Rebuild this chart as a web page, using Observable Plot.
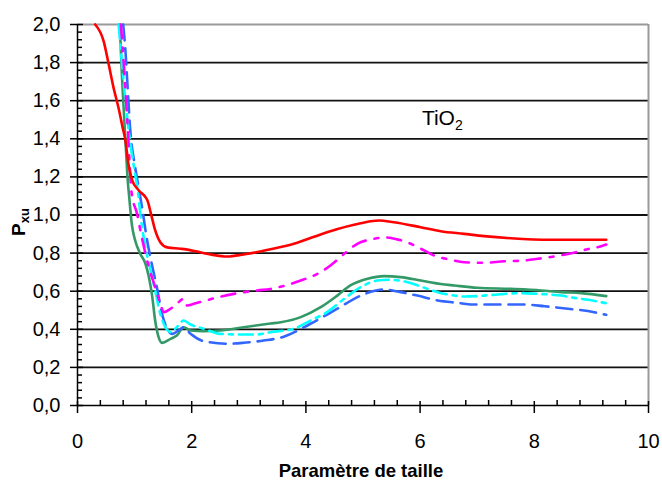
<!DOCTYPE html>
<html><head><meta charset="utf-8">
<script src="https://cdn.jsdelivr.net/npm/d3@7"></script>
<script src="https://cdn.jsdelivr.net/npm/@observablehq/plot@0.6"></script>
<style>body{margin:0;background:#fff;} svg{display:block}</style>
</head><body><div id="chart"></div>
<script>
// ---- data ----
const xRed = [0.31,0.46,0.54,0.63,0.72,0.79,0.84,0.89,0.96,1.07,1.22,1.30,1.36,1.45,1.57,1.80,1.95,2.09,2.33,2.62,2.91,3.20,3.38,3.79,4.37,4.96,5.28,5.54,6.01,6.36,6.77,7.12,7.59,8.29,9.26];
const yRed = [2.00,1.91,1.80,1.67,1.56,1.46,1.39,1.27,1.18,1.13,1.08,0.99,0.92,0.857,0.83,0.823,0.817,0.808,0.793,0.782,0.793,0.808,0.82,0.849,0.91,0.957,0.971,0.962,0.936,0.915,0.901,0.889,0.878,0.870,0.870];

const xMagenta = [0.76,0.82,0.87,0.95,1.04,1.13,1.25,1.36,1.45,1.51,1.63,1.74,1.86,1.92,2.04,2.21,2.47,2.74,3.15,3.38,3.91,4.20,4.43,4.67,4.90,5.14,5.40,5.60,5.81,6.07,6.25,6.54,6.77,7.12,7.47,7.82,8.06,8.44,8.73,8.91,9.17,9.26];
const yMagenta = [2.00,1.75,1.51,1.11,1.01,0.877,0.726,0.621,0.534,0.49,0.508,0.534,0.56,0.525,0.534,0.548,0.569,0.586,0.604,0.612,0.656,0.691,0.735,0.796,0.849,0.872,0.882,0.872,0.852,0.814,0.787,0.765,0.752,0.749,0.757,0.761,0.77,0.787,0.805,0.819,0.836,0.845];

const xCyan = [0.72,0.84,0.92,1.00,1.06,1.10,1.19,1.28,1.36,1.45,1.54,1.63,1.74,1.86,1.98,2.21,2.50,2.80,3.15,3.38,3.79,4.08,4.37,4.67,4.96,5.25,5.49,5.78,6.01,6.31,6.60,6.77,7.12,7.36,7.77,8.06,8.47,8.70,8.94,9.17,9.26];
const yCyan = [2.00,1.60,1.39,1.23,1.12,1.006,0.831,0.709,0.604,0.481,0.411,0.385,0.411,0.446,0.425,0.403,0.376,0.373,0.373,0.385,0.403,0.446,0.49,0.56,0.621,0.656,0.66,0.647,0.625,0.595,0.577,0.572,0.577,0.583,0.59,0.586,0.577,0.565,0.555,0.542,0.537];

const xBlue = [0.80,0.84,0.87,0.92,1.01,1.07,1.13,1.22,1.30,1.39,1.48,1.57,1.66,1.77,1.86,1.98,2.21,2.62,2.91,3.26,3.60,4.08,4.55,4.96,5.37,5.66,5.95,6.31,6.71,6.89,7.82,8.18,8.59,9.05,9.17,9.26];
const yBlue = [2.00,1.86,1.71,1.46,1.25,1.146,1.04,0.866,0.744,0.621,0.481,0.403,0.376,0.394,0.411,0.376,0.338,0.324,0.329,0.341,0.36,0.429,0.508,0.577,0.609,0.595,0.577,0.551,0.537,0.53,0.53,0.521,0.508,0.49,0.481,0.476];

const xGreen = [0.74,0.78,0.84,0.88,0.91,0.95,1.01,1.10,1.19,1.25,1.31,1.36,1.42,1.48,1.63,1.74,1.86,1.98,2.21,2.50,2.91,3.38,3.56,3.91,4.26,4.55,4.78,5.08,5.37,5.66,6.01,6.36,6.60,7.00,7.59,8.12,8.47,8.82,9.26];
const yGreen = [2.00,1.72,1.39,1.18,1.08,0.954,0.866,0.796,0.744,0.674,0.569,0.446,0.359,0.329,0.35,0.367,0.411,0.394,0.39,0.394,0.411,0.43,0.437,0.464,0.516,0.577,0.63,0.665,0.679,0.674,0.656,0.638,0.63,0.618,0.612,0.604,0.595,0.59,0.574];

const yTickLabels = [0,0.2,0.4,0.6,0.8,1.0,1.2,1.4,1.6,1.8,2.0];
const xTickLabels = [0,2,4,6,8,10];
const yMinor = d3.range(0, 2.0001, 0.04).filter(v => Math.abs(v/0.2 - Math.round(v/0.2)) > 1e-6);
const xMinor = d3.range(0, 10.0001, 0.4).filter(v => Math.abs(v/2 - Math.round(v/2)) > 1e-6);
const yGrid = yTickLabels.filter(v => v > 0 && v < 2);

const series = [
  {name: "green",   xs: xGreen,   ys: yGreen,   color: "#339966", dash: null},
  {name: "blue",    xs: xBlue,    ys: yBlue,    color: "#3366ff", dash: "16,8"},
  {name: "cyan",    xs: xCyan,    ys: yCyan,    color: "#00ffff", dash: "14,6,4,6"},
  {name: "magenta", xs: xMagenta, ys: yMagenta, color: "#ff00ff", dash: "14,9,4,9"},
  {name: "red",     xs: xRed,     ys: yRed,     color: "#ff0000", dash: null}
];
const rows = series.flatMap(s => s.xs.map((x, i) => ({series: s.name, x, y: s.ys[i]})));

const fmt = d => d.toFixed(1).replace(".", ",");

const plot = Plot.plot({
  width: 662, height: 484,
  marginLeft: 77, marginRight: 14, marginTop: 24, marginBottom: 79,
  x: {domain: [0, 10]},
  y: {domain: [0, 2]},
  style: {fontFamily: "'Liberation Sans', Arial, sans-serif", background: "#fff", color: "#000"},
  marks: [
    Plot.ruleY(yGrid, {stroke: "#111", strokeWidth: 1.8}),
    Plot.ruleY([2], {stroke: "#9a9a9a", strokeWidth: 2}),
    Plot.ruleX([10], {stroke: "#9a9a9a", strokeWidth: 2}),
    ...series.map(s => Plot.line(rows.filter(r => r.series === s.name), {
      x: "x", y: "y", stroke: s.color, strokeWidth: 2.6,
      strokeDasharray: s.dash, curve: "monotone-x"
    })),
    Plot.ruleX([0], {stroke: "#000", strokeWidth: 1.5}),
    Plot.ruleY([0], {stroke: "#000", strokeWidth: 1.5}),
    Plot.axisY(yTickLabels, {tickSize: 13, dx: 6, tickFormat: () => "", label: null, strokeWidth: 1.5}),
    Plot.axisY(yMinor, {tickSize: 5, dx: 5, tickFormat: () => "", label: null, strokeWidth: 1.5}),
    Plot.axisY(yTickLabels, {tickSize: 0, tickPadding: 17, tickFormat: fmt, fontSize: 20, label: null}),
    Plot.axisX(xTickLabels, {tickSize: 12, dy: -4, tickFormat: () => "", label: null, strokeWidth: 1.5}),
    Plot.axisX(xMinor, {tickSize: 5, dy: -5, tickFormat: () => "", label: null, strokeWidth: 1.5}),
    Plot.axisX(xTickLabels, {tickSize: 0, tickPadding: 28, fontSize: 20, label: null})
  ]
});
document.getElementById("chart").appendChild(plot);

const svg = d3.select(plot);
const fam = "'Liberation Sans', Arial, sans-serif";
// y axis title
const yl = svg.append("text")
  .attr("transform", "translate(25,222) rotate(-90)")
  .attr("text-anchor", "middle")
  .attr("font-family", fam).attr("font-weight", "bold").attr("font-size", 19).attr("fill", "#000");
yl.append("tspan").text("P");
yl.append("tspan").attr("font-size", 13).attr("dy", 4).text("xu");
// x axis title
svg.append("text")
  .attr("x", 361).attr("y", 477)
  .attr("text-anchor", "middle")
  .attr("font-family", fam).attr("font-weight", "bold").attr("font-size", 18.5).attr("fill", "#000")
  .text("Paramètre de taille");
// TiO2 annotation
const sx = plot.scale("x"), sy = plot.scale("y");
const t = svg.append("text")
  .attr("x", sx.apply(6.04)).attr("y", sy.apply(1.47))
  .attr("text-anchor", "start")
  .attr("font-family", fam).attr("font-size", 21).attr("fill", "#000");
t.append("tspan").text("TiO");
t.append("tspan").attr("font-size", 14).attr("dy", 5).text("2");
</script>
</body></html>
